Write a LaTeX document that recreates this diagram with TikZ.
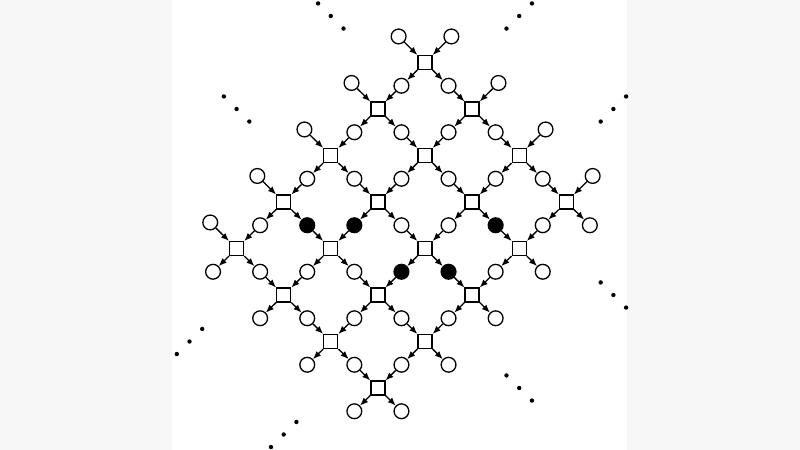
\documentclass[tikz,border=0pt]{standalone}
\usetikzlibrary{arrows.meta}

\tikzset{
  fac/.style={draw, rectangle, minimum size=7pt, inner sep=0pt, fill=white},
  var/.style={draw, circle, minimum size=7.4pt, inner sep=0pt, fill=white},
  msg/.style={-{Latex[length=4pt,width=3.2pt]}},
  dark a13/.style={fill=black},
  dark b13/.style={fill=black},
  dark a31/.style={fill=black},
  dark b23/.style={fill=black},
  dark a32/.style={fill=black}
}

\begin{document}
\begin{tikzpicture}[x=0.5pt, y=-0.5pt, line width=0.65pt]
  \useasboundingbox (0,0) rectangle (800,450);
  \fill[gray!6] (0,0) rectangle (172,450);
  \fill[gray!6] (627,0) rectangle (800,450);

  \begin{scope}[shift={(425,62.5)}, x={(23.55pt,-23.25pt)}, y={(-23.55pt,-23.25pt)}]
    % factors
    \foreach \u in {0,...,3}
      \foreach \v in {0,...,4}
        \node[fac] (s\u\v) at (\u,\v) {};

    % variables along u
    \foreach \v in {0,...,4} {
      \node[var] (a0\v) at (-0.56,\v) {};
      \draw[msg] (a0\v) -- (s0\v);
      \node[var] (a4\v) at (3.5,\v) {};
      \draw[msg] (s3\v) -- (a4\v);
    }
    \foreach \i/\p in {1/0,2/1,3/2}
      \foreach \v in {0,...,4} {
        \node[var, dark a\i\v/.try] (a\i\v) at (\i-0.5,\v) {};
        \draw[msg] (s\p\v) -- (a\i\v);
        \draw[msg] (a\i\v) -- (s\i\v);
      }

    % variables along v
    \foreach \u in {0,...,3} {
      \node[var] (b\u0) at (\u,-0.56) {};
      \draw[msg] (b\u0) -- (s\u0);
      \node[var] (b\u5) at (\u,4.5) {};
      \draw[msg] (s\u4) -- (b\u5);
    }
    \foreach \j/\p in {1/0,2/1,3/2,4/3}
      \foreach \u in {0,...,3} {
        \node[var, dark b\u\j/.try] (b\u\j) at (\u,\j-0.5) {};
        \draw[msg] (s\u\p) -- (b\u\j);
        \draw[msg] (b\u\j) -- (s\u\j);
      }

    % dots
    \foreach \a/\b/\du/\dv in {-1.5/0.5/1/0, -1.5/2.5/1/0, 4.5/0.5/1/0, 4.5/2.5/1/0,
                               0.5/-1.5/0/1, 2.5/-1.5/0/1, 0.5/5.5/0/1, 2.5/5.5/0/1}
      \foreach \k in {-1,0,1}
        \fill ({\a+0.27*\k*\du},{\b+0.27*\k*\dv}) circle (1.1pt);
  \end{scope}
\end{tikzpicture}
\end{document}
